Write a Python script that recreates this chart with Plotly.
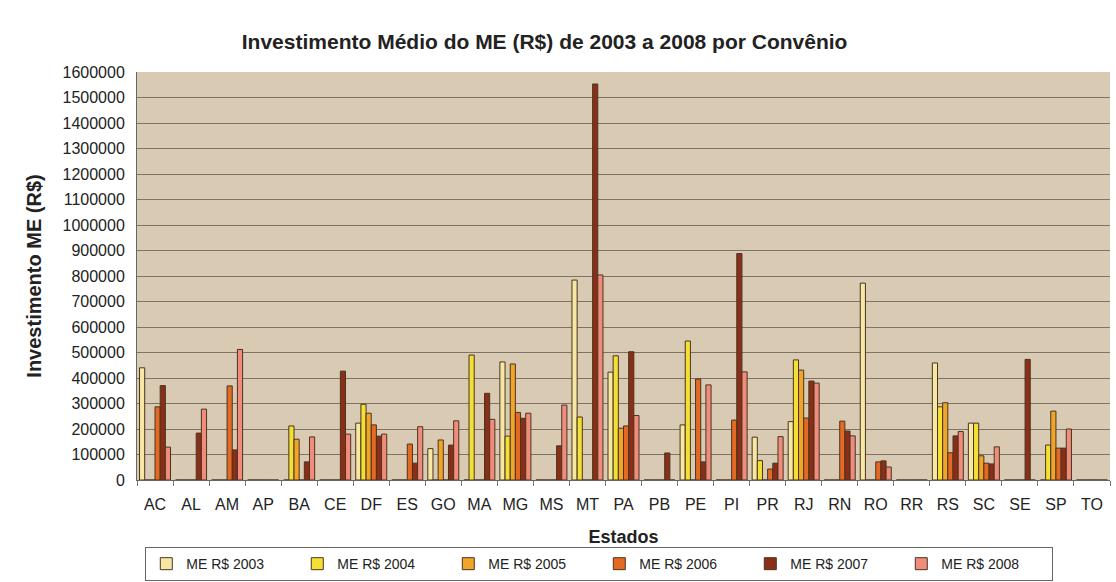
import plotly.graph_objects as go

estados = ["AC", "AL", "AM", "AP", "BA", "CE", "DF", "ES", "GO", "MA", "MG", "MS", "MT", "PA",
           "PB", "PE", "PI", "PR", "RJ", "RN", "RO", "RR", "RS", "SC", "SE", "SP", "TO"]

me_2003 = [440000, 0, 0, 0, 0, 0, 223000, 0, 123000, 0, 463000, 0, 784000, 423000,
           0, 216000, 0, 168000, 229000, 0, 772000, 0, 459000, 223000, 0, 0, 0]
me_2004 = [0, 0, 0, 0, 212000, 0, 297000, 0, 0, 490000, 172000, 0, 247000, 487000,
           0, 545000, 0, 76000, 471000, 0, 0, 0, 287000, 223000, 0, 137000, 0]
me_2005 = [0, 0, 0, 0, 160000, 0, 262000, 0, 157000, 0, 455000, 0, 0, 203000,
           0, 0, 0, 0, 431000, 0, 0, 0, 303000, 95000, 0, 270000, 0]
me_2006 = [287000, 0, 369000, 0, 0, 0, 216000, 141000, 0, 0, 265000, 0, 0, 212000,
           0, 396000, 235000, 43000, 243000, 231000, 71000, 0, 107000, 66000, 0, 125000, 0]
me_2007 = [370000, 184000, 118000, 0, 71000, 427000, 172000, 66000, 137000, 340000, 242000, 134000, 1553000, 503000,
           106000, 71000, 888000, 66000, 388000, 192000, 75000, 0, 173000, 63000, 473000, 125000, 0]
me_2008 = [129000, 278000, 512000, 0, 169000, 180000, 180000, 209000, 232000, 238000, 262000, 294000, 804000, 253000,
           0, 373000, 424000, 170000, 380000, 173000, 51000, 0, 190000, 130000, 0, 200000, 0]

series = [
    ("ME R$ 2003", me_2003, "#f6e8a2"),
    ("ME R$ 2004", me_2004, "#f2e034"),
    ("ME R$ 2005", me_2005, "#f0a428"),
    ("ME R$ 2006", me_2006, "#e46a24"),
    ("ME R$ 2007", me_2007, "#8a2e18"),
    ("ME R$ 2008", me_2008, "#f08c7c"),
]

FONT = "Arial, Liberation Sans, sans-serif"

fig = go.Figure()
for name, vals, col in series:
    fig.add_trace(go.Bar(
        x=estados, y=vals, name=name,
        marker=dict(color=col, line=dict(color="#4a3420", width=1)),
    ))

fig.update_layout(
    width=1116, height=582,
    margin=dict(l=137, r=6, t=72, b=102, autoexpand=False),
    paper_bgcolor="white",
    plot_bgcolor="#d9cab4",
    barmode="group", bargap=0.14, bargroupgap=0,
    font=dict(family=FONT, size=16, color="#222222"),
    title=dict(text="<b>Investimento Médio do ME (R$) de 2003 a 2008 por Convênio</b>",
               x=0.488, xanchor="center", xref="container",
               y=0.928, yanchor="middle", yref="container",
               font=dict(size=21, family=FONT, color="#222222")),
    showlegend=True,
    legend=dict(orientation="h", xref="container", x=0.537, xanchor="center",
                yref="container", y=0.06, yanchor="top",
                bordercolor="#666666", borderwidth=1, bgcolor="white",
                entrywidth=106, entrywidthmode="pixels", itemwidth=30,
                font=dict(size=14, family=FONT), traceorder="normal"),
)

fig.update_xaxes(
    title=dict(text="<b>Estados</b>", font=dict(size=18, family=FONT), standoff=18),
    tickfont=dict(size=16, family=FONT), tickangle=0,
    showline=True, linecolor="#666666", linewidth=1,
    ticks="outside", tickson="boundaries", ticklen=5, tickcolor="#777777",
    ticklabelstandoff=10,
    showgrid=False,
)
fig.update_yaxes(
    title=dict(text="<b>Investimento ME (R$)</b>", font=dict(size=20, family=FONT), standoff=15),
    range=[0, 1600000], dtick=100000, tickformat="d",
    tickfont=dict(size=16, family=FONT), ticklabelstandoff=8,
    showgrid=True, gridcolor="#7d7366", gridwidth=1,
    showline=True, linecolor="#666666", linewidth=1,
    ticks="", zeroline=False,
)

fig.write_html("out.html")
